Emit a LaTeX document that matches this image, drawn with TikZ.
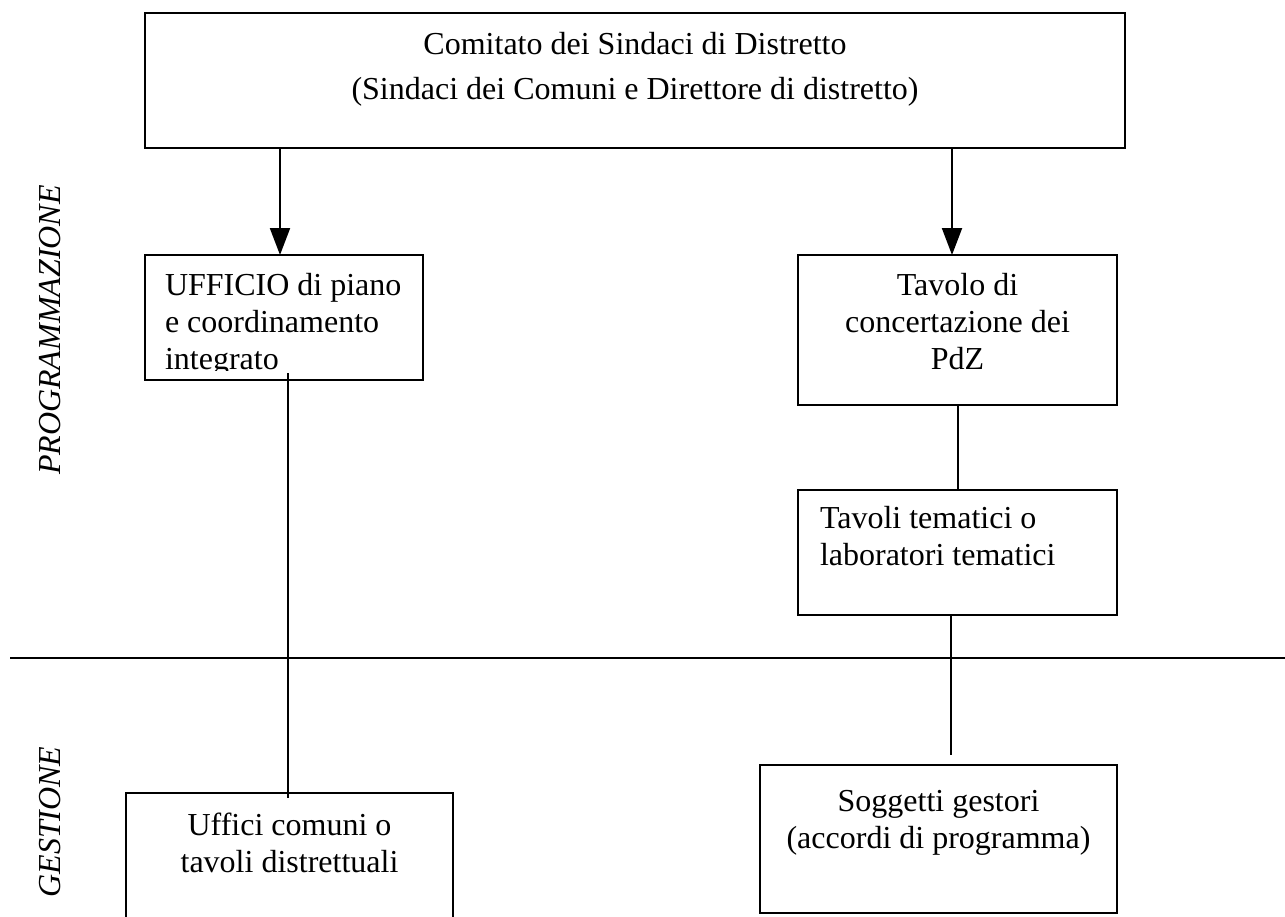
\documentclass[tikz,border=0pt]{standalone}
\usepackage{fontspec}
\setmainfont{Liberation Serif}
\usepackage{tikz}
\usetikzlibrary{arrows.meta,positioning}

\begin{document}
\begin{tikzpicture}[
  x=1pt, y=1pt,
  orgbox/.style={draw=black, line width=2pt, inner sep=0pt, outer sep=0pt},
  txt/.style={inner sep=0pt, outer sep=0pt, font=\fontsize{32}{37}\selectfont},
  side/.style={inner sep=0pt, font=\fontsize{32}{37}\selectfont\itshape, rotate=90},
  line/.style={draw=black, line width=2pt},
  arr/.style={-{Triangle[length=27pt,width=20pt]}, line width=2pt, draw=black}
]
\useasboundingbox (0,0) rectangle (1285,-916);
\clip (0,0) rectangle (1285,-916);

% boxes
\node[orgbox, minimum width=980pt, minimum height=135pt] (comitato) at (635,-80.5) {};
\node[orgbox, minimum width=278pt, minimum height=125pt] (ufficio) at (284,-317.5) {};
\node[orgbox, minimum width=319pt, minimum height=150pt] (tavolo) at (957.5,-330) {};
\node[orgbox, minimum width=319pt, minimum height=125pt] (tavoli) at (957.5,-552.5) {};
\node[orgbox, minimum width=327pt, minimum height=150pt] (uffici) at (289.5,-868) {};
\node[orgbox, minimum width=357pt, minimum height=148pt] (soggetti) at (938.5,-839) {};

% texts
\node[txt, align=center, below=19pt of comitato.north] (comitatoT) {Comitato dei Sindaci di Distretto\\[8pt](Sindaci dei Comuni e Direttore di distretto)};
\begin{scope}
  \clip (ufficio.north west) rectangle ([yshift=9.5pt]ufficio.south east);
  \node[txt, align=left, below right=18pt and 20pt of ufficio.north west] (ufficioT) {UFFICIO di piano\\e coordinamento\\integrato};
\end{scope}
\node[txt, align=center, below=18pt of tavolo.north] (tavoloT) {Tavolo di\\concertazione dei\\PdZ};
\node[txt, align=left, below right=16pt and 22pt of tavoli.north west] (tavoliT) {Tavoli tematici o\\laboratori tematici};
\node[txt, align=center, below=20pt of uffici.north] (ufficiT) {Uffici comuni o\\tavoli distrettuali};
\node[txt, align=center, below=25pt of soggetti.north] (soggettiT) {Soggetti gestori\\(accordi di programma)};

% side labels
\node[side] (programmazione) at (50,-330) {PROGRAMMAZIONE};
\node[side] (gestione) at (50,-822) {GESTIONE};

% separator
\coordinate (sepL) at (10,-658);
\coordinate (sepR) at (1285,-658);
\draw[line] (sepL) -- (sepR);

% connectors
\coordinate (soggettiIn) at (951,-755);
\draw[arr] ([xshift=-4pt]ufficio.north |- comitato.south) -- ([xshift=-4pt]ufficio.north);
\draw[arr] ([xshift=-5.5pt]tavolo.north |- comitato.south) -- ([xshift=-5.5pt]tavolo.north);
\draw[line] (tavolo.south) -- (tavoli.north);
\draw[line] (tavoli.south -| soggettiIn) -- (soggettiIn);
\draw[line] ([shift={(4pt,7pt)}]ufficio.south) -- ([shift={(-1.5pt,-5pt)}]uffici.north);

\end{tikzpicture}
\end{document}
